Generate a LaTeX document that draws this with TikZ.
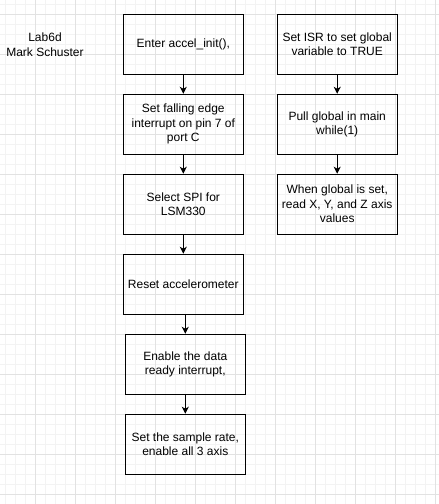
\documentclass[tikz,border=0pt]{standalone}
\usepackage{fontspec}
\setmainfont{Liberation Sans}
\usetikzlibrary{arrows.meta}
\definecolor{gridmajor}{HTML}{E2E2E2}
\definecolor{gridminor}{HTML}{F3F3F3}
\begin{document}
\begin{tikzpicture}[x=1pt,y=-1pt,
  flowbox/.style={draw=black, line width=1pt, rectangle, minimum width=120pt, minimum height=60pt,
    align=center, inner sep=2pt, font=\fontsize{12pt}{14.5pt}\selectfont, text=black},
  plainlabel/.style={align=center, font=\fontsize{12pt}{15pt}\selectfont, text=black},
  arr/.style={draw=black, line width=1pt, -{Stealth[length=7pt,width=7pt,inset=2pt]}}]
\useasboundingbox (0,0) rectangle (439,504);
\fill[white] (0,0) rectangle (439,504);
% minor grid
\foreach \gx in {5.7,15.7,...,439} \draw[gridminor, line width=0.6pt] (\gx,0) -- (\gx,504);
\foreach \gy in {4.3,14.3,...,504} \draw[gridminor, line width=0.6pt] (0,\gy) -- (439,\gy);
% major grid
\foreach \gx in {-4.3,35.7,...,439} \draw[gridmajor, line width=0.8pt] (\gx,0) -- (\gx,504);
\foreach \gy in {14.3,54.3,...,504} \draw[gridmajor, line width=0.8pt] (0,\gy) -- (439,\gy);

\node[plainlabel] (title) at (45,44.5) {Lab6d\\Mark Schuster};

\node[flowbox] (b1) at (183.3,44.2) {Enter accel\_init(),};
\node[flowbox] (b2) at (183.3,124.3) {Set falling edge\\interrupt on pin 7 of\\port C};
\node[flowbox] (b3) at (183.3,204.2) {Select SPI for\\LSM330};
\node[flowbox] (b4) at (183.3,284.2) {Reset accelerometer};
\node[flowbox] (b5) at (185.3,364.3) {Enable the data\\ready interrupt,};
\node[flowbox] (b6) at (185.3,444.2) {Set the sample rate,\\enable all 3 axis};

\node[flowbox] (r1) at (337.2,44.2) {Set ISR to set global\\variable to TRUE};
\node[flowbox] (r2) at (337.2,124.3) {Pull global in main\\while(1)};
\node[flowbox] (r3) at (337.2,204.2) {When global is set,\\read X, Y, and Z axis\\values};

\draw[arr] (b1.south) -- (b2.north);
\draw[arr] (b2.south) -- (b3.north);
\draw[arr] (b3.south) -- (b4.north);
\draw[arr] (b4.south -| b5.north) -- (b5.north);
\draw[arr] (b5.south) -- (b6.north);
\draw[arr] (r1.south) -- (r2.north);
\draw[arr] (r2.south) -- (r3.north);
\end{tikzpicture}
\end{document}
